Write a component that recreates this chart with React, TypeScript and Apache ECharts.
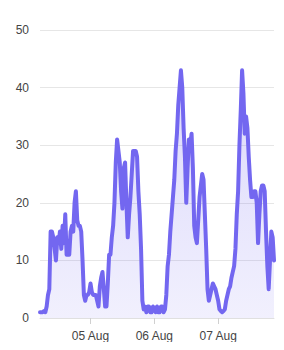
import React, { useEffect, useRef } from "react";
import * as echarts from "echarts";

const startTime = Date.UTC(2024, 7, 4, 5, 0, 0);
const stepMs = 30 * 60 * 1000;
const values: number[] = [
  1, 1, 1, 1.2, 1, 2, 4, 5, 15, 15, 14, 12, 10, 14, 13, 15, 12, 16, 13, 18,
  11, 11, 11, 15, 16, 15, 20, 22, 17, 16, 16, 15, 10, 4, 3, 4, 4, 4.5,
  6, 4.5, 4, 4, 4, 3, 2, 5.5, 7, 8, 5, 2, 2, 6, 11, 11, 14, 16, 20, 27,
  31, 29, 27, 22, 19, 26, 27, 20, 14, 18, 21, 25, 29, 29, 29, 28, 22, 18, 12, 3,
  1.5, 2, 1, 2, 2, 1, 1, 2, 1.5, 1, 2, 1, 1, 2, 2, 1, 1.5, 4,
  9, 11, 15, 18, 21, 24, 29, 32, 37, 40, 43, 40, 33, 28, 20, 26, 31, 30, 32, 26,
  16, 14, 13, 17, 21, 23, 25, 24, 18, 12, 5, 3, 4, 5, 6, 5.5, 5, 4,
  3, 1.5, 1.2, 1, 1.2, 1.5, 3, 4, 5, 5.5, 7, 8, 9, 12, 18, 22, 30, 36, 43, 39,
  32, 35, 33, 28, 24, 21, 21, 22, 22, 20, 13, 18, 22, 23, 23, 22, 15, 9, 5, 10,
  15, 14, 10,
];
const monthNames = ["Jan", "Feb", "Mar", "Apr", "May", "Jun", "Jul", "Aug", "Sep", "Oct", "Nov", "Dec"];
const categories: string[] = values.map((_, i) => String(startTime + i * stepMs));
const yTicks = { min: 0, max: 50, interval: 10 };

function isMidnight(v: string) {
  const d = new Date(Number(v));
  return d.getUTCHours() === 0 && d.getUTCMinutes() === 0;
}
function fmt(v: string) {
  const d = new Date(Number(v));
  const dd = String(d.getUTCDate()).padStart(2, "0");
  return `${dd} ${monthNames[d.getUTCMonth()]}`;
}

export default function App() {
  const ref = useRef<HTMLDivElement>(null);
  useEffect(() => {
    if (!ref.current) return;
    const chart = echarts.init(ref.current, undefined, { renderer: "svg" });
    chart.setOption({
      animation: false,
      grid: { left: 40, right: 10, top: 30, bottom: 32 },
      xAxis: {
        type: "category",
        data: categories,
        boundaryGap: false,
        axisLine: { show: true, lineStyle: { color: "#e0e0e0" } },
        axisTick: {
          show: true,
          length: 6,
          interval: (_i: number, v: string) => isMidnight(v),
          lineStyle: { color: "#d0d0d0" },
        },
        axisLabel: {
          interval: (_i: number, v: string) => isMidnight(v),
          formatter: (v: string) => fmt(v),
          color: "#444",
          fontSize: 12,
          fontFamily: "Liberation Sans",
          margin: 12,
        },
        splitLine: { show: false },
      },
      yAxis: {
        type: "value",
        min: yTicks.min,
        max: yTicks.max,
        interval: yTicks.interval,
        axisLine: { show: false },
        axisTick: { show: false },
        axisLabel: { color: "#444", fontSize: 12, fontFamily: "Liberation Sans", margin: 11 },
        splitLine: { lineStyle: { color: "#e6e6e6" } },
      },
      series: [
        {
          type: "line",
          data: values,
          showSymbol: false,
          smooth: false,
          lineStyle: { color: "#7367f0", width: 4, cap: "round", join: "round" },
          itemStyle: { color: "#7367f0" },
          areaStyle: {
            color: new echarts.graphic.LinearGradient(0, 0, 0, 1, [
              { offset: 0, color: "rgba(115,103,240,0.36)" },
              { offset: 1, color: "rgba(115,103,240,0.14)" },
            ]),
          },
        },
      ],
    });
    return () => chart.dispose();
  }, []);
  return <div ref={ref} style={{ width: 284, height: 350, margin: -8 }} />;
}
